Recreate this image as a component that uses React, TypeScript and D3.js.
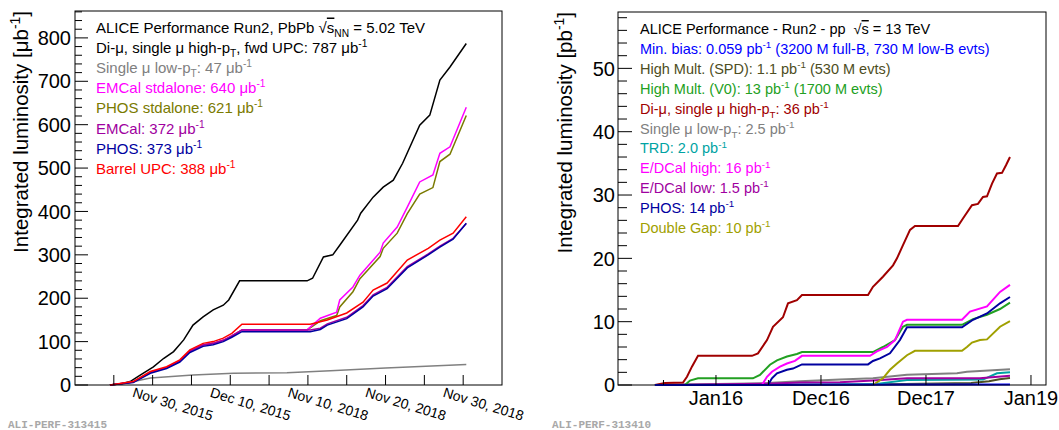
import React from "react";
import * as d3 from "d3";

const FONT = "'Liberation Sans', Arial, Helvetica, sans-serif";

// ---------------- Left panel (PbPb), x = concatenated run day ----------------
const leftTickDays = [0, 5, 10, 15, 20, 25, 30, 35, 40, 45];
const leftTickLabels: { day: number; label: string }[] = [
  { day: 5, label: "Nov 30, 2015" },
  { day: 15, label: "Dec 10, 2015" },
  { day: 25, label: "Nov 10, 2018" },
  { day: 35, label: "Nov 20, 2018" },
  { day: 45, label: "Nov 30, 2018" },
];
const leftYMajor = [0, 100, 200, 300, 400, 500, 600, 700, 800];

const pbDiMuon: [number, number][] = [
  [-0.5, 0], [1, 3], [2.1, 8], [3.4, 23], [5.1, 42], [6.4, 61], [7.7, 77], [9, 104], [10.2, 138],
  [11.5, 157], [12.8, 173], [14.1, 184], [14.8, 196], [16.2, 240], [24.9, 240], [25.6, 246],
  [27.0, 295], [28.2, 300], [29.1, 322], [31.4, 380], [31.8, 396], [33.4, 433], [34.7, 456],
  [36.0, 472], [37.2, 511], [39.4, 599], [40.7, 622], [42.0, 703], [43.3, 733], [45.4, 787],
];
const pbSingleMuLow: [number, number][] = [
  [-0.5, 0], [1.5, 4], [4.7, 16], [10.2, 23], [15.4, 27], [22.3, 28], [27.9, 33], [35, 39], [45.4, 47],
];
const pbEmcalStd: [number, number][] = [
  [-0.5, 0], [2.5, 7], [4.7, 29], [6.8, 40], [8.5, 55], [9.8, 78], [11.5, 92], [12.8, 96], [14.1, 103],
  [15.2, 113], [16.5, 127], [24.9, 127], [26.6, 154], [28.7, 168], [29.1, 196], [30.8, 226],
  [31.7, 253], [34.3, 306], [34.7, 327], [36.5, 364], [37.8, 410], [39.4, 468], [41.1, 484],
  [42.0, 534], [43.3, 549], [45.4, 640],
];
const pbPhosStd: [number, number][] = [
  [-0.5, 0], [2.5, 7], [4.7, 29], [6.8, 40], [8.5, 55], [9.8, 78], [11.5, 92], [12.8, 96], [14.1, 103],
  [15.2, 113], [16.5, 127], [24.9, 127], [26.6, 148], [28.7, 160], [29.1, 180], [30.8, 215],
  [31.7, 245], [34.3, 296], [34.7, 315], [36.5, 350], [37.8, 395], [39.4, 440], [41.1, 455],
  [42.0, 515], [43.3, 532], [45.4, 621],
];
const pbEmcal: [number, number][] = [
  [-0.5, 0], [2.5, 7], [4.7, 29], [6.8, 40], [8.5, 55], [9.8, 78], [11.5, 92], [12.8, 96], [14.1, 103],
  [15.2, 113], [16.5, 127], [25.3, 127], [26.6, 131], [27.5, 141], [30.0, 156], [32.1, 183],
  [33.4, 208], [35.2, 225], [37.8, 273], [40.5, 302], [42.0, 320], [43.7, 338], [45.4, 372],
];
const pbPhos: [number, number][] = [
  [-0.5, 0], [2.5, 6], [4.7, 27], [6.8, 38], [8.5, 53], [9.8, 75], [11.5, 89], [12.8, 93], [14.1, 100],
  [15.2, 110], [16.5, 123], [25.3, 123], [26.6, 128], [27.5, 138], [30.0, 153], [32.1, 180],
  [33.4, 205], [35.2, 222], [37.8, 270], [40.5, 300], [42.0, 318], [43.7, 336], [45.4, 373],
];
const pbBarrelUPC: [number, number][] = [
  [-0.5, 0], [2.5, 8], [4.7, 31], [6.8, 42], [8.5, 58], [9.8, 81], [11.5, 96], [12.8, 100], [14.1, 108],
  [15.2, 119], [16.5, 140], [25.3, 140], [26.6, 146], [27.5, 150], [30.0, 166], [32.1, 191],
  [33.4, 219], [35.2, 235], [37.8, 288], [40.5, 315], [42.0, 334], [43.7, 350], [45.4, 388],
];

const leftLegend: { text: string; color: string }[] = [
  { text: "ALICE Performance Run2, PbPb √~{s}_{NN} = 5.02 TeV", color: "#000000" },
  { text: "Di-μ, single μ high-p_{T}, fwd UPC: 787 μb^{-1}", color: "#000000" },
  { text: "Single μ low-p_{T}: 47 μb^{-1}", color: "#808080" },
  { text: "EMCal stdalone: 640 μb^{-1}", color: "#ff00ff" },
  { text: "PHOS stdalone: 621 μb^{-1}", color: "#7a7a00" },
  { text: "EMCal: 372 μb^{-1}", color: "#a000a0" },
  { text: "PHOS: 373 μb^{-1}", color: "#0000a0" },
  { text: "Barrel UPC: 388 μb^{-1}", color: "#ff0000" },
];

// ---------------- Right panel (pp), x = decimal year ----------------
const rightMajorTicks = [2016, 2017, 2018, 2019];
const rightTickLabels = ["Jan16", "Dec16", "Dec17", "Jan19"];
const rightMinorTicks = [2015.5, 2016.5, 2017.5, 2018.5];
const rightYMajor = [0, 10, 20, 30, 40, 50];

const ppMinBias: [number, number][] = [[2015.419, 0], [2017.0, 0.03], [2018.8, 0.06]];
const ppHmSPD: [number, number][] = [
  [2015.419, 0], [2017.0, 0.05], [2017.8, 0.15], [2018.43, 0.3], [2018.6, 0.6], [2018.7, 0.9], [2018.8, 1.1],
];
const ppHmV0: [number, number][] = [
  [2015.419, 0], [2015.705, 0], [2015.752, 0.7], [2015.829, 1.05], [2016.352, 1.05], [2016.419, 1.6],
  [2016.514, 3.2], [2016.581, 3.9], [2016.676, 4.5], [2016.771, 4.9], [2016.819, 5.2], [2017.495, 5.2],
  [2017.59, 6.0], [2017.705, 7.1], [2017.781, 9.2], [2017.819, 9.5], [2018.343, 9.5], [2018.448, 10.4],
  [2018.581, 11.1], [2018.705, 12.0], [2018.8, 13.0],
];
const ppDiMuon: [number, number][] = [
  [2015.419, 0], [2015.514, 0.3], [2015.686, 0.4], [2015.724, 1.3], [2015.771, 2.9], [2015.829, 4.6],
  [2016.343, 4.6], [2016.4, 5.0], [2016.486, 7.1], [2016.543, 9.2], [2016.638, 10.7], [2016.686, 12.9],
  [2016.771, 13.4], [2016.819, 14.2], [2017.448, 14.2], [2017.495, 15.5], [2017.59, 17.1],
  [2017.686, 18.9], [2017.724, 20.0], [2017.781, 22.1], [2017.848, 24.5], [2017.895, 25.1],
  [2018.305, 25.1], [2018.352, 26.3], [2018.438, 28.4], [2018.495, 28.6], [2018.543, 29.7],
  [2018.581, 29.8], [2018.629, 31.8], [2018.676, 33.4], [2018.724, 33.5], [2018.762, 34.7], [2018.8, 36.0],
];
const ppSingleMuLow: [number, number][] = [
  [2015.419, 0], [2016.486, 0.3], [2016.8, 0.6], [2017.181, 0.85], [2017.495, 1.05], [2017.819, 1.6],
  [2018.295, 1.85], [2018.39, 2.1], [2018.8, 2.5],
];
const ppTRD: [number, number][] = [
  [2015.419, 0], [2017.495, 0.1], [2017.819, 0.8], [2018.543, 0.85], [2018.676, 1.85], [2018.8, 2.0],
];
const ppEDCalHigh: [number, number][] = [
  [2015.419, 0], [2016.438, 0], [2016.486, 1.3], [2016.533, 2.1], [2016.61, 2.9], [2016.676, 3.4],
  [2016.752, 3.8], [2016.819, 4.6], [2017.467, 4.6], [2017.533, 5.3], [2017.629, 6.0], [2017.705, 7.1],
  [2017.781, 10.0], [2017.819, 10.3], [2018.343, 10.3], [2018.419, 11.6], [2018.581, 12.4],
  [2018.705, 14.7], [2018.8, 15.8],
];
const ppEDCalLow: [number, number][] = [
  [2015.419, 0], [2016.486, 0.2], [2016.8, 0.4], [2017.181, 0.45], [2017.495, 0.7], [2017.819, 1.05],
  [2018.514, 1.05], [2018.8, 1.45],
];
const ppPhos: [number, number][] = [
  [2015.419, 0], [2016.495, 0], [2016.533, 1.05], [2016.581, 1.85], [2016.676, 2.4], [2016.733, 2.6],
  [2016.819, 3.25], [2017.448, 3.25], [2017.495, 3.8], [2017.562, 4.2], [2017.657, 5.0], [2017.752, 7.1],
  [2017.819, 9.1], [2018.343, 9.1], [2018.448, 10.3], [2018.581, 11.3], [2018.705, 12.9], [2018.8, 13.9],
];
const ppDoubleGap: [number, number][] = [
  [2015.419, 0], [2017.495, 0], [2017.59, 1.05], [2017.657, 2.4], [2017.724, 3.4], [2017.819, 4.7],
  [2017.895, 5.4], [2018.343, 5.4], [2018.39, 6.0], [2018.438, 6.7], [2018.514, 7.1], [2018.581, 7.2],
  [2018.705, 9.2], [2018.8, 10.1],
];

const rightLegend: { text: string; color: string }[] = [
  { text: "ALICE Performance - Run2 - pp  √~{s} = 13 TeV", color: "#000000" },
  { text: "Min. bias: 0.059 pb^{-1} (3200 M full-B, 730 M low-B evts)", color: "#0000ff" },
  { text: "High Mult. (SPD): 1.1 pb^{-1} (530 M evts)", color: "#4d4d22" },
  { text: "High Mult. (V0): 13 pb^{-1} (1700 M evts)", color: "#22a022" },
  { text: "Di-μ, single μ high-p_{T}: 36 pb^{-1}", color: "#a00000" },
  { text: "Single μ low-p_{T}: 2.5 pb^{-1}", color: "#808080" },
  { text: "TRD: 2.0 pb^{-1}", color: "#00a3a3" },
  { text: "E/DCal high: 16 pb^{-1}", color: "#ff00ff" },
  { text: "E/DCal low: 1.5 pb^{-1}", color: "#a000a0" },
  { text: "PHOS: 14 pb^{-1}", color: "#0000a0" },
  { text: "Double Gap: 10 pb^{-1}", color: "#a0a000" },
];

// ---------------- rich text helper ----------------
type Seg = { t: string; k: "n" | "sup" | "sub" | "ov" };
function parseRich(s: string): Seg[] {
  const out: Seg[] = [];
  let i = 0;
  let buf = "";
  while (i < s.length) {
    const c = s[i];
    if ((c === "^" || c === "_" || c === "~") && s[i + 1] === "{") {
      if (buf) { out.push({ t: buf, k: "n" }); buf = ""; }
      const end = s.indexOf("}", i + 2);
      out.push({ t: s.slice(i + 2, end), k: c === "^" ? "sup" : c === "_" ? "sub" : "ov" });
      i = end + 1;
    } else { buf += c; i++; }
  }
  if (buf) out.push({ t: buf, k: "n" });
  return out;
}

function Rich(props: { x: number; y: number; text: string; size: number; fill: string; anchor?: string; transform?: string }) {
  const { x, y, text, size, fill, anchor, transform } = props;
  const segs = parseRich(text);
  let cur = 0;
  return (
    <text x={x} y={y} fontSize={size} fill={fill} fontFamily={FONT} textAnchor={anchor || "start"} transform={transform} style={{ whiteSpace: "pre" }}>
      {segs.map((s, i) => {
        const shift = s.k === "sup" ? -0.4 * size : s.k === "sub" ? 0.3 * size : 0;
        const dy = shift - cur;
        cur = shift;
        const fs = s.k === "sup" || s.k === "sub" ? 0.68 * size : size;
        return (
          <tspan key={i} dy={dy} fontSize={fs} textDecoration={s.k === "ov" ? "overline" : undefined}>
            {s.t}
          </tspan>
        );
      })}
    </text>
  );
}

export default function App() {
  // Left scales
  const lx = d3.scaleLinear().domain([-5, 50]).range([75, 502]);
  const ly = d3.scaleLinear().domain([0, 862]).range([385, 11]);
  const lLine = d3.line<[number, number]>().x((d) => lx(d[0])).y((d) => ly(d[1]));
  const leftMinor = d3.range(0, 862, 20);

  // Right scales
  const rx = d3.scaleLinear().domain([2015.067, 2019.143]).range([618, 1046]);
  const ry = d3.scaleLinear().domain([0, 58.9]).range([385, 12]);
  const rLine = d3.line<[number, number]>().x((d) => rx(d[0])).y((d) => ry(d[1]));
  const rightMinorY = d3.range(0, 58.9, 2);

  const leftSeries: { data: [number, number][]; color: string }[] = [
    { data: pbDiMuon, color: "#000000" },
    { data: pbSingleMuLow, color: "#808080" },
    { data: pbPhosStd, color: "#7a7a00" },
    { data: pbEmcalStd, color: "#ff00ff" },
    { data: pbEmcal, color: "#a000a0" },
    { data: pbPhos, color: "#0000a0" },
    { data: pbBarrelUPC, color: "#ff0000" },
  ];
  const rightSeries: { data: [number, number][]; color: string }[] = [
    { data: ppHmSPD, color: "#4d4d22" },
    { data: ppSingleMuLow, color: "#808080" },
    { data: ppTRD, color: "#00a3a3" },
    { data: ppEDCalLow, color: "#a000a0" },
    { data: ppDoubleGap, color: "#a0a000" },
    { data: ppHmV0, color: "#22a022" },
    { data: ppEDCalHigh, color: "#ff00ff" },
    { data: ppPhos, color: "#0000a0" },
    { data: ppDiMuon, color: "#a00000" },
    { data: ppMinBias, color: "#0000ff" },
  ];

  return (
    <svg width={1059} height={430} style={{ position: "absolute", left: 0, top: 0, background: "#fff" }} fontFamily={FONT}>
      <rect x={0} y={0} width={1059} height={430} fill="#fff" />
      {/* ===== LEFT PANEL ===== */}
      <g>
        {leftSeries.map((s, i) => (
          <path key={i} d={lLine(s.data) || ""} fill="none" stroke={s.color} strokeWidth={1.5} />
        ))}
        <rect x={75} y={11} width={427} height={374} fill="none" stroke="#000" strokeWidth={1} />
        {leftMinor.map((v) => (
          <line key={"lm" + v} x1={75} x2={v % 100 === 0 ? 88 : 82} y1={ly(v)} y2={ly(v)} stroke="#000" />
        ))}
        {leftYMajor.map((v) => (
          <text key={"ly" + v} x={71} y={ly(v)} dy="0.36em" fontSize={20} textAnchor="end" fill="#000">{v}</text>
        ))}
        {leftTickDays.map((d) => (
          <line key={"lt" + d} x1={lx(d)} x2={lx(d)} y1={385} y2={375} stroke="#000" />
        ))}
        {leftTickLabels.map((t) => (
          <text key={t.label} x={0} y={0} fontSize={14} fill="#000" transform={`translate(${lx(t.day) - 21},396.5) rotate(17)`}>
            {t.label}
          </text>
        ))}
        <Rich x={0} y={0} text="Integrated luminosity [μb^{-1}]" size={20.5} fill="#000" anchor="end" transform="translate(28,11) rotate(-90)" />
        {leftLegend.map((e, i) => (
          <Rich key={i} x={96} y={32.5 + i * 20.2} text={e.text} size={15} fill={e.color} />
        ))}
        <text x={8} y={428} fontSize={11} fontFamily="'Liberation Mono', 'DejaVu Sans Mono', monospace" fontWeight="bold" fill="#a8a8a8">ALI-PERF-313415</text>
      </g>

      {/* ===== RIGHT PANEL ===== */}
      <g>
        {rightSeries.map((s, i) => (
          <path key={i} d={rLine(s.data) || ""} fill="none" stroke={s.color} strokeWidth={2} />
        ))}
        <rect x={618} y={12} width={428} height={373} fill="none" stroke="#000" strokeWidth={1} />
        {rightMinorY.map((v) => (
          <line key={"rm" + v} x1={618} x2={v % 10 === 0 ? 632 : 627} y1={ry(v)} y2={ry(v)} stroke="#000" />
        ))}
        {rightYMajor.map((v) => (
          <text key={"ry" + v} x={615} y={ry(v)} dy="0.36em" fontSize={20} textAnchor="end" fill="#000">{v}</text>
        ))}
        {rightMajorTicks.map((t, i) => (
          <g key={"rt" + t}>
            <line x1={rx(t)} x2={rx(t)} y1={385} y2={375} stroke="#000" />
            <text x={rx(t)} y={405} fontSize={20} textAnchor="middle" fill="#000">{rightTickLabels[i]}</text>
          </g>
        ))}
        {rightMinorTicks.map((t) => (
          <line key={"rmt" + t} x1={rx(t)} x2={rx(t)} y1={385} y2={380} stroke="#000" />
        ))}
        <Rich x={0} y={0} text="Integrated luminosity [pb^{-1}]" size={20.5} fill="#000" anchor="end" transform="translate(572,12) rotate(-90)" />
        {rightLegend.map((e, i) => (
          <Rich key={i} x={640} y={34 + i * 19.9} text={e.text} size={14.5} fill={e.color} />
        ))}
        <text x={552} y={428} fontSize={11} fontFamily="'Liberation Mono', 'DejaVu Sans Mono', monospace" fontWeight="bold" fill="#a8a8a8">ALI-PERF-313410</text>
      </g>
    </svg>
  );
}
